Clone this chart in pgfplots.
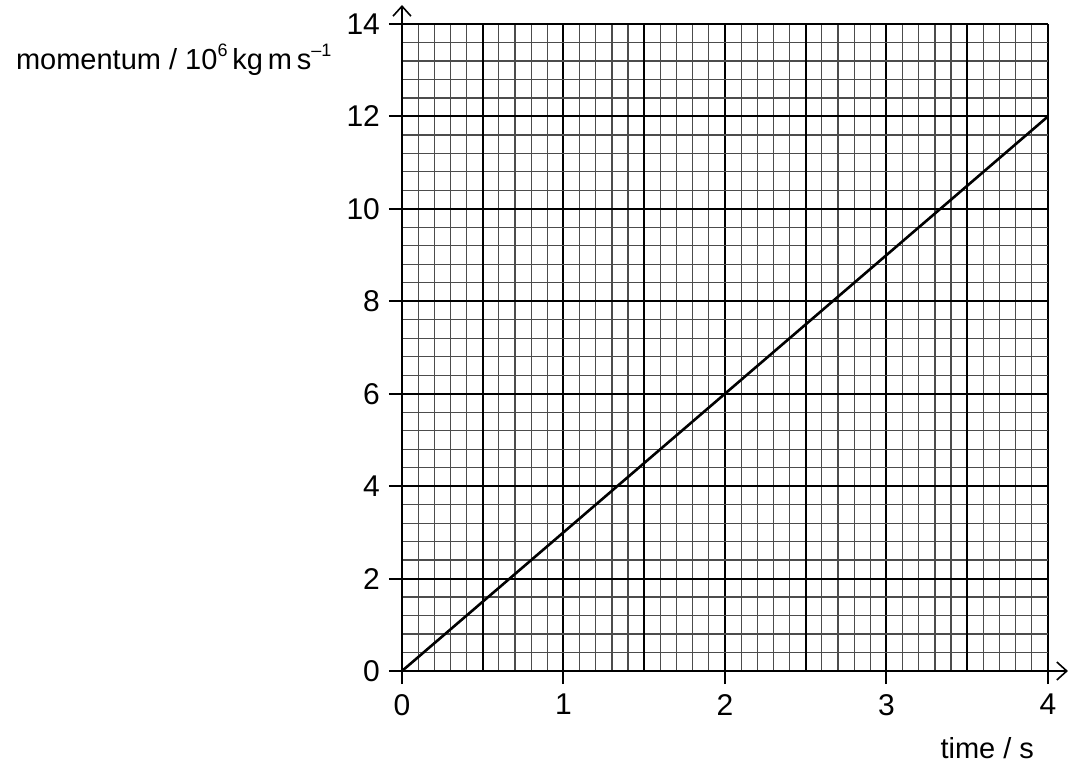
\documentclass[border=0pt]{standalone}
\usepackage{fontspec}
\setmainfont{Liberation Sans}
\usepackage{pgfplots}
\pgfplotsset{compat=1.18}
\usetikzlibrary{arrows.meta}
\begin{document}
\begin{tikzpicture}
\useasboundingbox (-201pt,-48pt) rectangle (335.5pt,335.5pt);
\begin{axis}[
  at={(0,0)}, anchor=south west,
  scale only axis,
  width=323pt, height=323.5pt,
  xmin=0, xmax=4, ymin=0, ymax=14,
  axis lines=left,
  axis line style={line width=1pt, black},
  x axis line style={-{Straight Barb[length=5pt,width=9pt,line width=0.8pt]}, shorten >=-10pt},
  y axis line style={-{Straight Barb[length=5pt,width=9pt,line width=0.8pt]}, shorten >=-9.5pt},
  xtick={0,1,2,3,4},
  ytick={0,2,4,6,8,10,12,14},
  minor x tick num=9,
  minor y tick num=4,
  extra x ticks={0.5,1.5,2.5,3.5},
  extra x tick labels={},
  extra x tick style={grid=major, major tick length=0pt},
  grid=both,
  major grid style={black, line width=1pt},
  minor grid style={black!70, line width=0.6pt},
  tick align=outside,
  major tick length=6.5pt,
  minor tick length=0pt,
  tick style={black, line width=1pt},
  tick label style={font=\fontsize{15}{18}\selectfont},
  xticklabel style={yshift=-1.5pt},
  yticklabel style={xshift=-1pt},
  /pgf/number format/assume math mode=true,
  every axis y label/.style={at={(axis description cs:-0.6084,0.929)}, anchor=base west},
  every axis x label/.style={at={(axis description cs:0.906,-0.1345)}, anchor=base},
  ylabel={\fontsize{14.5}{17}\selectfont momentum / 10\raisebox{0.45em}{\fontsize{9}{9}\selectfont 6}\,kg\,m\,s\raisebox{0.45em}{\fontsize{9}{9}\selectfont –1}},
  xlabel={\fontsize{14.5}{17}\selectfont time / s},
]
\addplot[black, line width=1.3pt] coordinates {(0,0) (4,12)};
\end{axis}
\end{tikzpicture}
\end{document}
